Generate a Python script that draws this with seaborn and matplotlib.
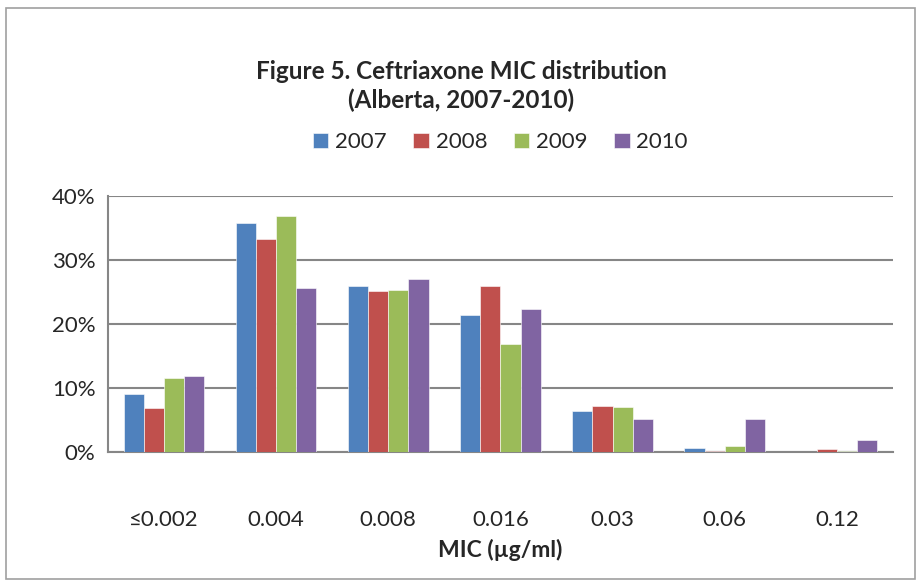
import pandas as pd
import numpy as np
import matplotlib
matplotlib.use("Agg")
import matplotlib.pyplot as plt
import seaborn as sns
from matplotlib.patches import Rectangle
from matplotlib.ticker import PercentFormatter

mic_labels = ["≤0.002", "0.004", "0.008", "0.016", "0.03", "0.06", "0.12"]
years = ["2007", "2008", "2009", "2010"]
pct_2007 = [9.0, 35.8, 25.9, 21.4, 6.4, 0.7, 0.0]
pct_2008 = [6.9, 33.3, 25.2, 25.9, 7.2, 0.1, 0.4]
pct_2009 = [11.5, 36.9, 25.3, 16.9, 7.1, 1.0, 0.15]
pct_2010 = [11.8, 25.7, 27.1, 22.3, 5.2, 5.2, 1.8]
colors = ["#4F81BD", "#C0504D", "#9BBB59", "#8064A2"]

df = pd.DataFrame({
    "mic": mic_labels * 4,
    "year": np.repeat(years, len(mic_labels)),
    "pct": pct_2007 + pct_2008 + pct_2009 + pct_2010,
})

sns.set_style("white")
plt.rcParams["font.family"] = ["Lato", "DejaVu Sans"]

fig = plt.figure(figsize=(9.22, 5.86), dpi=100)
ax = fig.add_axes([0.117, 0.2287, 0.8515, 0.4368])

sns.barplot(data=df, x="mic", y="pct", hue="year", order=mic_labels,
            hue_order=years, palette=colors, width=0.72, gap=0,
            saturation=1, edgecolor="white", linewidth=0.4, ax=ax, zorder=3)

ax.set_ylim(0, 40)
ax.set_xlim(-0.5, len(mic_labels) - 0.5)
ax.set_yticks([0, 10, 20, 30, 40])
ax.yaxis.set_major_formatter(PercentFormatter(decimals=0))
ax.grid(axis="y", color="#868686", linewidth=1.5, zorder=0)
ax.set_axisbelow(True)

for side in ["top", "right"]:
    ax.spines[side].set_visible(False)
for side in ["left", "bottom"]:
    ax.spines[side].set_color("#868686")
    ax.spines[side].set_linewidth(1.5)

ax.set_xticks(np.arange(len(mic_labels)))
ax.set_xticklabels(mic_labels)
ax.set_xticks(np.arange(-0.5, len(mic_labels)), minor=True)
ax.tick_params(axis="x", which="major", length=0, pad=42, labelsize=16)
ax.tick_params(axis="x", which="minor", length=7, width=1.5, color="#868686",
               direction="out")
ax.tick_params(axis="y", length=5, width=1.5, color="#868686", direction="out",
               labelsize=16, pad=4)

ax.set_xlabel("MIC (µg/ml)", fontsize=16.5, fontweight="bold", labelpad=6)
ax.set_ylabel("")

ax.legend(loc="center", bbox_to_anchor=(0.5, 1.21), ncol=4, frameon=False,
          fontsize=16, handlelength=0.7, handleheight=0.7,
          handletextpad=0.3, columnspacing=1.2)

fig.text(0.5, 0.853, "Figure 5. Ceftriaxone MIC distribution\n(Alberta, 2007-2010)",
         ha="center", va="center", fontsize=17.5, fontweight="bold", linespacing=1.25)

fig.patches.append(Rectangle((0.006, 0.012), 0.986, 0.975, transform=fig.transFigure,
                             fill=False, edgecolor="#A0A0A0", linewidth=1.2))

fig.savefig("out.png", dpi=100)
